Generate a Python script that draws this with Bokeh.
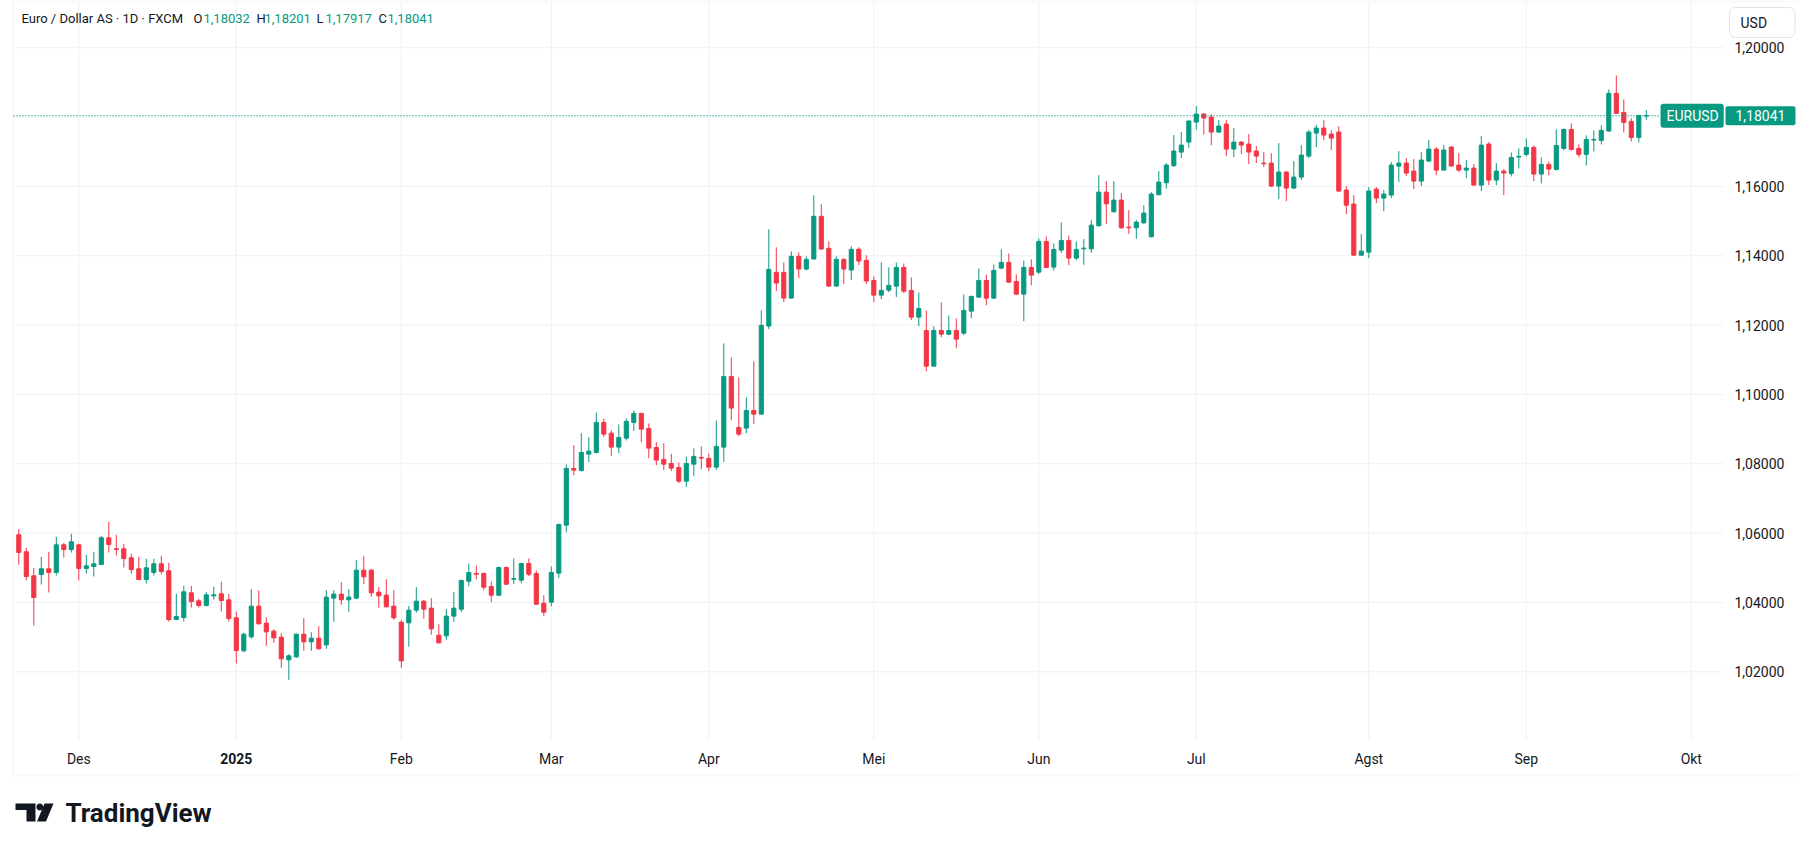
import math
from bokeh.plotting import figure
from bokeh.core.properties import value
from bokeh.models import (Label, BoxAnnotation, PolyAnnotation, ColumnDataSource, Range1d)
from bokeh.embed import file_html
from bokeh.resources import INLINE

# ---------------- data (EUR/USD daily, FXCM) ----------------
month_ticks = [8, 29, 51, 71, 92, 114, 136, 157, 180, 201, 223]
month_labels = ["Des", "2025", "Feb", "Mar", "Apr", "Mei", "Jun", "Jul", "Agst", "Sep", "Okt"]
price_ticks = [1.02, 1.04, 1.06, 1.08, 1.10, 1.12, 1.14, 1.16, 1.18, 1.20]

opens = [
    1.05952, 1.05461, 1.04769, 1.04807, 1.04971, 1.04865, 1.05663, 1.05529, 1.05663, 1.04980,
    1.05038, 1.05096, 1.05865, 1.05548, 1.05548, 1.05288, 1.04971, 1.04663, 1.04865, 1.05115,
    1.04913, 1.03508, 1.03566, 1.04278, 1.04047, 1.03912, 1.04191, 1.04249, 1.04076, 1.03557,
    1.02605, 1.03009, 1.03894, 1.03404, 1.03173, 1.03000, 1.02345, 1.02432, 1.03086, 1.02865,
    1.02971, 1.02778, 1.04125, 1.04241, 1.04077, 1.04125, 1.04933, 1.04933, 1.04298, 1.04212,
    1.03894, 1.03432, 1.03413, 1.03779, 1.04038, 1.03836, 1.03057, 1.03038, 1.03606, 1.03806,
    1.04614, 1.04835, 1.04835, 1.04460, 1.04210, 1.05008, 1.04671, 1.04643, 1.05124, 1.04835,
    1.03979, 1.04008, 1.04845, 1.06230, 1.07865, 1.07808, 1.08279, 1.08327, 1.09193, 1.08885,
    1.08481, 1.08741, 1.09193, 1.09453, 1.09020, 1.08471, 1.08125, 1.08010, 1.07894, 1.07500,
    1.07990, 1.08183, 1.08154, 1.07904, 1.08481, 1.10520, 1.09049, 1.09029, 1.09539, 1.09433,
    1.11973, 1.13522, 1.13522, 1.12781, 1.13984, 1.13618, 1.13907, 1.15138, 1.14214, 1.13127,
    1.13897, 1.13589, 1.14186, 1.13868, 1.13288, 1.12865, 1.13009, 1.13125, 1.13663, 1.13000,
    1.12230, 1.11845, 1.10816, 1.11845, 1.11739, 1.11845, 1.11768, 1.12403, 1.12807, 1.13288,
    1.12778, 1.13644, 1.13808, 1.13259, 1.12894, 1.13663, 1.13529, 1.14414, 1.13673, 1.14164,
    1.14443, 1.13933, 1.14201, 1.14201, 1.14865, 1.15836, 1.15269, 1.15606, 1.14826, 1.14807,
    1.14951, 1.14547, 1.15760, 1.16106, 1.16596, 1.16991, 1.17279, 1.17857, 1.18088, 1.18001,
    1.17568, 1.17799, 1.17077, 1.17279, 1.17222, 1.17020, 1.16673, 1.16673, 1.16010, 1.16414,
    1.15952, 1.16269, 1.16875, 1.17539, 1.17684, 1.17510, 1.17568, 1.15894, 1.15490, 1.14018,
    1.14105, 1.15923, 1.15663, 1.15750, 1.16587, 1.16673, 1.16443, 1.16154, 1.16731, 1.17077,
    1.16471, 1.17135, 1.16616, 1.16471, 1.16529, 1.16038, 1.17222, 1.16183, 1.16443, 1.16375,
    1.16847, 1.16924, 1.17126, 1.16356, 1.16635, 1.16491, 1.17097, 1.17645, 1.17097, 1.16924,
    1.17337, 1.17328, 1.17597, 1.18684, 1.18136, 1.17876, 1.17414, 1.18032,
]
highs = [
    1.06125, 1.05577, 1.05000, 1.05317, 1.05461, 1.05894, 1.05721, 1.05981, 1.05692, 1.05375,
    1.05461, 1.05923, 1.06327, 1.05952, 1.05692, 1.05404, 1.05317, 1.05259, 1.05259, 1.05346,
    1.05144, 1.04249, 1.04480, 1.04480, 1.04105, 1.04307, 1.04451, 1.04595, 1.04249, 1.03739,
    1.03125, 1.04385, 1.04356, 1.03577, 1.03230, 1.03115, 1.02509, 1.03100, 1.03548, 1.03144,
    1.03317, 1.04356, 1.04356, 1.04587, 1.04385, 1.05222, 1.05337, 1.04952, 1.04443, 1.04673,
    1.04356, 1.03490, 1.03894, 1.04443, 1.04067, 1.04125, 1.03375, 1.03808, 1.04298, 1.04662,
    1.05124, 1.05066, 1.04864, 1.04604, 1.05037, 1.05037, 1.05268, 1.05152, 1.05268, 1.04922,
    1.04210, 1.05037, 1.06278, 1.07981, 1.08539, 1.08885, 1.08770, 1.09481, 1.09308, 1.08962,
    1.09135, 1.09308, 1.09539, 1.09472, 1.09164, 1.08625, 1.08596, 1.08289, 1.08038, 1.08212,
    1.08443, 1.08500, 1.08298, 1.09251, 1.11473, 1.11069, 1.10492, 1.09914, 1.10953, 1.12425,
    1.14763, 1.14243, 1.13810, 1.14128, 1.14099, 1.13984, 1.15744, 1.15484, 1.14417, 1.13984,
    1.13926, 1.14272, 1.14243, 1.14013, 1.13404, 1.13808, 1.13663, 1.13808, 1.13779, 1.13375,
    1.12942, 1.12422, 1.11961, 1.12653, 1.12278, 1.12191, 1.12884, 1.12855, 1.13634, 1.13461,
    1.13750, 1.14183, 1.14067, 1.13461, 1.13865, 1.13894, 1.14500, 1.14558, 1.14356, 1.14962,
    1.14587, 1.14414, 1.14480, 1.15028, 1.16327, 1.16154, 1.16154, 1.15808, 1.15317, 1.15028,
    1.15461, 1.15836, 1.16443, 1.16673, 1.17481, 1.17568, 1.17914, 1.18318, 1.18116, 1.18088,
    1.17914, 1.17914, 1.17684, 1.17308, 1.17510, 1.17164, 1.16991, 1.16962, 1.17251, 1.16443,
    1.16731, 1.17193, 1.17626, 1.17770, 1.17914, 1.17626, 1.17741, 1.16010, 1.15750, 1.14624,
    1.15981, 1.15981, 1.15894, 1.16702, 1.17020, 1.16818, 1.16789, 1.16991, 1.17337, 1.17135,
    1.17193, 1.17164, 1.16962, 1.16760, 1.16645, 1.17453, 1.17279, 1.16673, 1.16500, 1.16981,
    1.17097, 1.17385, 1.17183, 1.16837, 1.16722, 1.17645, 1.17674, 1.17818, 1.17212, 1.17472,
    1.17616, 1.17760, 1.18799, 1.19203, 1.18511, 1.17962, 1.18059, 1.18201,
]
lows = [
    1.05086, 1.04634, 1.03335, 1.04519, 1.04288, 1.04778, 1.05298, 1.05442, 1.04634, 1.04836,
    1.04749, 1.05090, 1.05442, 1.05355, 1.05009, 1.04836, 1.04644, 1.04547, 1.04778, 1.04807,
    1.03451, 1.03489, 1.03451, 1.03855, 1.03855, 1.03893, 1.04086, 1.03739, 1.03451, 1.02239,
    1.02567, 1.02951, 1.03365, 1.02749, 1.02836, 1.02114, 1.01768, 1.02403, 1.02605, 1.02605,
    1.02644, 1.02663, 1.03442, 1.03933, 1.03731, 1.04106, 1.04529, 1.04164, 1.03846, 1.03856,
    1.03500, 1.02114, 1.02721, 1.03702, 1.03529, 1.03067, 1.02817, 1.02923, 1.03442, 1.03719,
    1.04469, 1.04671, 1.04354, 1.04008, 1.04181, 1.04498, 1.04527, 1.04556, 1.04758, 1.03931,
    1.03604, 1.03892, 1.04700, 1.06028, 1.07673, 1.07779, 1.08048, 1.08298, 1.08770, 1.08221,
    1.08308, 1.08673, 1.08943, 1.08625, 1.08164, 1.07962, 1.07817, 1.07788, 1.07442, 1.07327,
    1.07644, 1.07846, 1.07788, 1.07817, 1.08048, 1.09260, 1.08798, 1.08885, 1.09145, 1.09414,
    1.11886, 1.12983, 1.12666, 1.12762, 1.13358, 1.13580, 1.13888, 1.14176, 1.13099, 1.13108,
    1.13185, 1.13301, 1.13734, 1.13185, 1.12663, 1.12749, 1.12951, 1.12807, 1.12923, 1.12143,
    1.11970, 1.10671, 1.10806, 1.11653, 1.11710, 1.11335, 1.11710, 1.12201, 1.12788, 1.12576,
    1.12759, 1.13615, 1.13221, 1.12865, 1.12115, 1.13153, 1.13471, 1.13644, 1.13577, 1.14077,
    1.13731, 1.13875, 1.13739, 1.14086, 1.14846, 1.14923, 1.15250, 1.14778, 1.14634, 1.14490,
    1.14923, 1.14538, 1.15750, 1.15933, 1.16568, 1.16818, 1.17116, 1.17635, 1.17491, 1.17193,
    1.17549, 1.16875, 1.16847, 1.16933, 1.16645, 1.16673, 1.16558, 1.15981, 1.15634, 1.15577,
    1.15923, 1.16183, 1.16818, 1.17135, 1.17337, 1.17049, 1.15846, 1.15202, 1.13999, 1.13999,
    1.13932, 1.15519, 1.15288, 1.15663, 1.16125, 1.16298, 1.15923, 1.16010, 1.16702, 1.16327,
    1.16462, 1.16577, 1.16414, 1.16241, 1.16029, 1.15865, 1.16038, 1.16038, 1.15750, 1.16289,
    1.16519, 1.16866, 1.16154, 1.16087, 1.16317, 1.16462, 1.17039, 1.17039, 1.16837, 1.16606,
    1.17010, 1.17212, 1.17587, 1.18097, 1.17558, 1.17299, 1.17270, 1.17917,
]
closes = [
    1.05442, 1.04749, 1.04143, 1.04971, 1.04865, 1.05663, 1.05529, 1.05750, 1.04980, 1.05057,
    1.05115, 1.05865, 1.05673, 1.05529, 1.05269, 1.04951, 1.04663, 1.05000, 1.05115, 1.04894,
    1.03508, 1.03595, 1.04307, 1.04028, 1.03912, 1.04220, 1.04220, 1.04057, 1.03537, 1.02614,
    1.03086, 1.03894, 1.03384, 1.03153, 1.02980, 1.02374, 1.02461, 1.03086, 1.02865, 1.02971,
    1.02663, 1.04154, 1.04241, 1.04077, 1.04154, 1.04933, 1.04741, 1.04279, 1.04192, 1.03875,
    1.03557, 1.02316, 1.03779, 1.04038, 1.03808, 1.03240, 1.02836, 1.03606, 1.03836, 1.04633,
    1.04864, 1.04816, 1.04441, 1.04210, 1.05008, 1.04527, 1.04691, 1.05124, 1.04816, 1.03950,
    1.03719, 1.04864, 1.06249, 1.07865, 1.07817, 1.08327, 1.08366, 1.09193, 1.08856, 1.08481,
    1.08760, 1.09222, 1.09453, 1.09000, 1.08452, 1.08106, 1.07990, 1.07875, 1.07500, 1.08010,
    1.08212, 1.08164, 1.07904, 1.08500, 1.10520, 1.09607, 1.08856, 1.09539, 1.09433, 1.11992,
    1.13608, 1.13214, 1.12781, 1.13984, 1.13618, 1.13897, 1.15138, 1.14195, 1.13127, 1.13897,
    1.13618, 1.14186, 1.13849, 1.13272, 1.12865, 1.13000, 1.13144, 1.13663, 1.12980, 1.12230,
    1.12480, 1.10816, 1.11845, 1.11739, 1.11845, 1.11595, 1.12422, 1.12826, 1.13288, 1.12778,
    1.13577, 1.13808, 1.13240, 1.12894, 1.13663, 1.13442, 1.14414, 1.13663, 1.14183, 1.14443,
    1.13933, 1.14183, 1.14220, 1.14884, 1.15836, 1.15500, 1.15606, 1.14807, 1.14807, 1.14971,
    1.15231, 1.15779, 1.16125, 1.16616, 1.17020, 1.17193, 1.17885, 1.18088, 1.17972, 1.17568,
    1.17741, 1.17077, 1.17279, 1.17193, 1.16991, 1.16875, 1.16654, 1.16010, 1.16414, 1.15952,
    1.16269, 1.16904, 1.17568, 1.17684, 1.17481, 1.17395, 1.15865, 1.15461, 1.14018, 1.14134,
    1.15865, 1.15663, 1.15779, 1.16616, 1.16673, 1.16385, 1.16154, 1.16760, 1.17077, 1.16471,
    1.17049, 1.16587, 1.16471, 1.16529, 1.16038, 1.17193, 1.16183, 1.16443, 1.16385, 1.16837,
    1.16866, 1.17126, 1.16356, 1.16635, 1.16500, 1.17183, 1.17645, 1.17068, 1.16924, 1.17356,
    1.17356, 1.17616, 1.18684, 1.18107, 1.17847, 1.17414, 1.18049, 1.18041,
]

# ---------------- style / layout ----------------
GREEN = "#089981"
RED = "#F23645"
TEXT = "#131722"
GRID = "#eef0f4"
FONT = "Roboto"

W, H = 1797, 833               # whole canvas is the plotting frame
BAR0, BAR_STEP = 18.3, 7.5     # pixel position of bar 0 and bar spacing
PX_PER_UNIT, Y_REF_PX, Y_REF = 3467.0, 463.3, 1.08


def X_AT(px):
    return (px - BAR0) / BAR_STEP


def Y_AT(py):
    return Y_REF + (Y_REF_PX - py) / PX_PER_UNIT


PLOT_L, PLOT_R, PLOT_T, PLOT_B = 13, 1723, 2, 740   # chart pane (pixels)

idx = list(range(len(opens)))
colors = [GREEN if c >= o else RED for o, c in zip(opens, closes)]
src = ColumnDataSource(dict(
    x=idx,
    top=[max(o, c) for o, c in zip(opens, closes)],
    bottom=[min(o, c) for o, c in zip(opens, closes)],
    high=highs, low=lows, color=colors,
))

p = figure(width=W, height=H, x_range=Range1d(X_AT(0), X_AT(W)),
           y_range=Range1d(Y_AT(H), Y_AT(0)), output_backend="svg",
           toolbar_location=None, title=None, min_border=0)
p.axis.visible = False
p.grid.visible = False
p.background_fill_color = "white"
p.border_fill_color = "white"
p.outline_line_color = None

# pane grid lines (drawn from the tick lists)
p.segment(x0=X_AT(PLOT_L), x1=X_AT(PLOT_R), y0=price_ticks, y1=price_ticks,
          line_color=GRID, line_width=1)
p.segment(x0=month_ticks, x1=month_ticks, y0=Y_AT(PLOT_B), y1=Y_AT(PLOT_T),
          line_color=GRID, line_width=1)

# price scale labels
shown = [t for t in price_ticks if abs(t - 1.18) > 1e-9]
p.text(x=[X_AT(1734)] * len(shown), y=shown,
       text=[f"{t:.5f}".replace(".", ",") for t in shown],
       text_font=value(FONT), text_font_size="14px", text_color=TEXT,
       text_align="left", text_baseline="middle")

# time scale labels (year label in bold)
for bold in (False, True):
    sel = [(t, l) for t, l in zip(month_ticks, month_labels) if (l == "2025") == bold]
    p.text(x=[t for t, _ in sel], y=[Y_AT(758)] * len(sel), text=[l for _, l in sel],
           text_font=value(FONT), text_font_size="14px", text_color=TEXT,
           text_font_style="bold" if bold else "normal",
           text_align="center", text_baseline="middle")

# candles
p.segment(x0="x", y0="low", x1="x", y1="high", line_color="color", line_width=1, source=src)
p.vbar(x="x", width=0.55, top="top", bottom="bottom", fill_color="color",
       line_color="color", line_width=1, source=src)

# last price line
p.segment(x0=X_AT(PLOT_L), x1=X_AT(1660), y0=closes[-1], y1=closes[-1],
          line_color=GREEN, line_dash="1 2", line_width=1.3)

# price tags
last_txt = f"{closes[-1]:.5f}".replace(".", ",")
p.add_layout(Label(x=X_AT(1660), y=closes[-1], text="EURUSD", text_font=FONT,
                   text_font_size="14px", text_color="white", text_align="left",
                   text_baseline="middle", background_fill_color=GREEN,
                   padding=dict(left=6, right=5, top=4, bottom=4), border_radius=3))
p.add_layout(Label(x=X_AT(1725), y=closes[-1], text=last_txt, text_font=FONT,
                   text_font_size="14px", text_color="white", text_align="left",
                   text_baseline="middle", background_fill_color=GREEN,
                   padding=dict(left=10, right=10, top=4, bottom=4), border_radius=2))

# currency button
p.add_layout(Label(x=X_AT(1729), y=Y_AT(22), text="USD", text_font=FONT,
                   text_font_size="14px", text_color=TEXT, text_align="left",
                   text_baseline="middle", background_fill_color="white",
                   border_line_color="#e0e3eb", border_line_width=1,
                   padding=dict(left=11, right=28, top=7, bottom=7), border_radius=6))

# legend header
fmt = lambda v: f"{v:.5f}".replace(".", ",")
p.add_layout(Label(x=X_AT(21), y=Y_AT(18), text="Euro / Dollar AS · 1D · FXCM",
                   text_font=FONT, text_font_size="13px", text_color=TEXT,
                   text_baseline="middle"))
for letter, val, lx, vx in [("O", opens[-1], 193, 203), ("H", highs[-1], 256, 264),
                            ("L", lows[-1], 316, 325), ("C", closes[-1], 378, 387)]:
    p.add_layout(Label(x=X_AT(lx), y=Y_AT(18), text=letter, text_font=FONT,
                       text_font_size="13px", text_color=TEXT, text_baseline="middle"))
    p.add_layout(Label(x=X_AT(vx), y=Y_AT(18), text=fmt(val), text_font=FONT,
                       text_font_size="13px", text_color=GREEN, text_baseline="middle"))

# chart frame border
p.add_layout(BoxAnnotation(left=X_AT(12.7), right=X_AT(1800), top=Y_AT(1), bottom=Y_AT(775),
                           fill_alpha=0, line_color="#e6e8ec", line_width=2))

# TradingView logo
LOGO = "#131722"
p.add_layout(PolyAnnotation(xs=[X_AT(15), X_AT(35), X_AT(35), X_AT(26), X_AT(26), X_AT(15)],
                            ys=[Y_AT(803), Y_AT(803), Y_AT(821), Y_AT(821), Y_AT(809.5), Y_AT(809.5)],
                            fill_color=LOGO, fill_alpha=1, line_alpha=0))
p.add_layout(PolyAnnotation(xs=[X_AT(39.3 + 3.4 * math.cos(a * math.pi / 8)) for a in range(16)],
                            ys=[Y_AT(806.5 + 3.4 * math.sin(a * math.pi / 8)) for a in range(16)],
                            fill_color=LOGO, fill_alpha=1, line_alpha=0))
p.add_layout(PolyAnnotation(xs=[X_AT(44), X_AT(53), X_AT(45.5), X_AT(36.5)],
                            ys=[Y_AT(803), Y_AT(803), Y_AT(821), Y_AT(821)],
                            fill_color=LOGO, fill_alpha=1, line_alpha=0))
p.add_layout(Label(x=X_AT(65), y=Y_AT(812), text="TradingView", text_font=FONT,
                   text_font_size="26px", text_font_style="bold", text_color=LOGO,
                   text_baseline="middle"))

open("out.html", "w").write(file_html(p, INLINE))
